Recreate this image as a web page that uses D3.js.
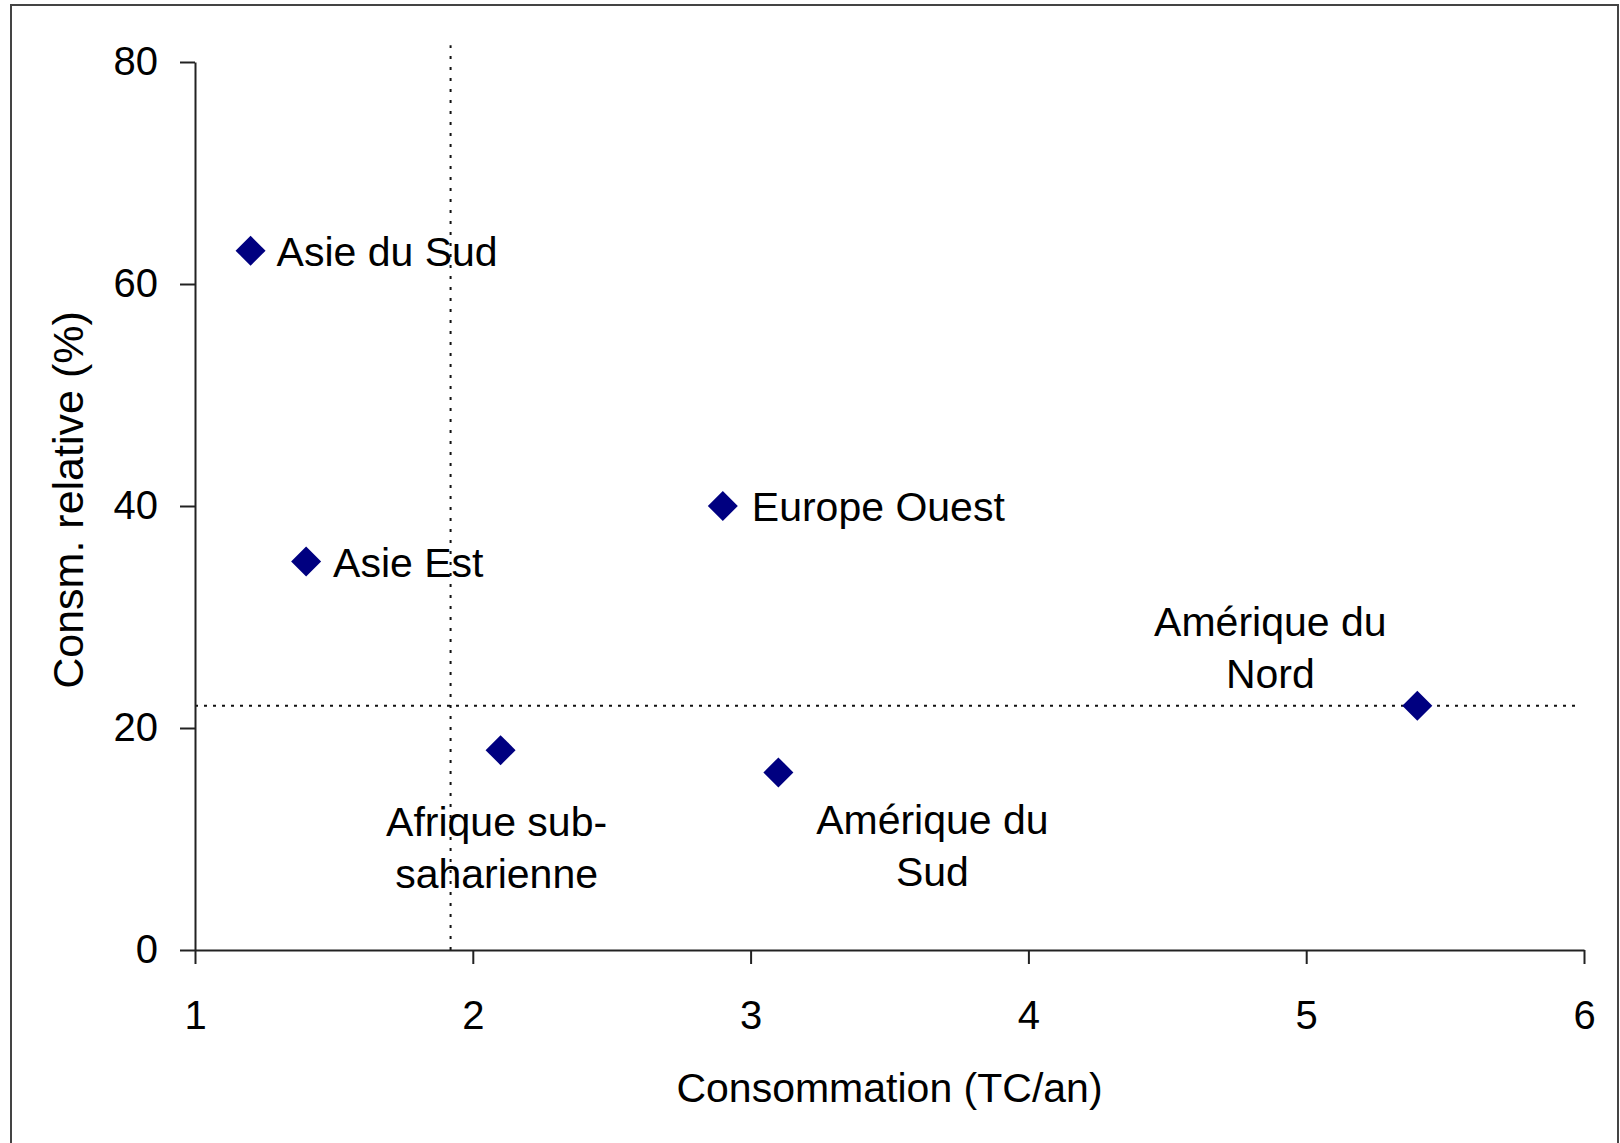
<!DOCTYPE html>
<html>
<head>
<meta charset="utf-8">
<script src="https://cdn.jsdelivr.net/npm/d3@7"></script>
<style>
  html, body { margin: 0; padding: 0; background: #fff; }
  svg { display: block; font-family: 'Liberation Sans', Arial, sans-serif; }
  .axis path, .axis line { stroke: #222; stroke-width: 2; }
  .axis text { font-size: 40px; fill: #000; }
</style>
</head>
<body>
<svg id="chart"></svg>
<script>
// data
const regions = ['Asie du Sud', 'Asie Est', 'Europe Ouest', 'Afrique sub-saharienne', 'Amérique du Sud', 'Amérique du Nord'];
const consommation = [1.2, 1.4, 2.9, 2.1, 3.1, 5.4];
const consmRelative = [63, 35, 40, 18, 16, 22];
const labelLines = [['Asie du Sud'], ['Asie Est'], ['Europe Ouest'], ['Afrique sub-', 'saharienne'], ['Amérique du', 'Sud'], ['Amérique du', 'Nord']];
const xTicks = [1, 2, 3, 4, 5, 6];
const yTicks = [0, 20, 40, 60, 80];
const refX = 1.92;
const refY = 22;
const refXTop = 81.5;
const refYEnd = 5.98;

const width = 1620;
const height = 1143;

const svg = d3.select('#chart')
    .attr('width', width)
    .attr('height', height);

// outer frame, runs past the bottom like in the reference
svg.append('rect')
    .attr('x', 11)
    .attr('y', 5)
    .attr('width', 1607)
    .attr('height', 1160)
    .attr('fill', '#fff')
    .attr('stroke', '#444')
    .attr('stroke-width', 2);

const x = d3.scaleLinear().domain([1, 6]).range([195, 1584]);
const y = d3.scaleLinear().domain([0, 80]).range([950, 62]);

// label placement per point: [dx, dy of first baseline, anchor]
const labelPlace = [
    [26, 15, 'start'],
    [27, 15, 'start'],
    [29, 15, 'start'],
    [-4, 86, 'middle'],
    [154, 62, 'middle'],
    [-147, -70, 'middle']
];
const lineHeight = 52;

// reference lines
svg.append('line')
    .attr('x1', x(refX)).attr('x2', x(refX))
    .attr('y1', y(0)).attr('y2', y(refXTop))
    .attr('stroke', '#111')
    .attr('stroke-width', 2)
    .attr('stroke-dasharray', '3,8');

svg.append('line')
    .attr('x1', x(1)).attr('x2', x(refYEnd))
    .attr('y1', y(refY)).attr('y2', y(refY))
    .attr('stroke', '#111')
    .attr('stroke-width', 2)
    .attr('stroke-dasharray', '3,6');

// axes
svg.append('g')
    .attr('class', 'axis')
    .attr('transform', `translate(0,${y(0)})`)
    .call(d3.axisBottom(x).tickValues(xTicks).tickFormat(d3.format('d')).tickSize(14).tickSizeOuter(0).tickPadding(37));

svg.append('g')
    .attr('class', 'axis')
    .attr('transform', `translate(${x(1)},0)`)
    .call(d3.axisLeft(y).tickValues(yTicks).tickFormat(d3.format('d')).tickSize(15).tickSizeOuter(0).tickPadding(22));

svg.selectAll('.axis text').attr('font-family', null);

// points
const points = regions.map((r, i) => ({ name: r, cx: consommation[i], cy: consmRelative[i], lines: labelLines[i], place: labelPlace[i] }));

const diamond = d3.symbol().type(d3.symbolSquare).size(450);

svg.append('g')
    .selectAll('path')
    .data(points)
    .join('path')
        .attr('d', diamond)
        .attr('transform', d => `translate(${x(d.cx)},${y(d.cy)}) rotate(45)`)
        .attr('fill', '#000080');

const labels = svg.append('g')
    .selectAll('text')
    .data(points)
    .join('text')
        .attr('font-size', 41)
        .attr('fill', '#000')
        .attr('text-anchor', d => d.place[2])
        .attr('x', d => x(d.cx) + d.place[0])
        .attr('y', d => y(d.cy) + d.place[1]);

labels.selectAll('tspan')
    .data(d => d.lines.map(l => ({ text: l, x: x(d.cx) + d.place[0] })))
    .join('tspan')
        .attr('x', t => t.x)
        .attr('dy', (t, i) => i === 0 ? 0 : lineHeight)
        .text(t => t.text);

// axis titles
svg.append('text')
    .attr('x', (x(1) + x(6)) / 2)
    .attr('y', 1102)
    .attr('text-anchor', 'middle')
    .attr('font-size', 41)
    .text('Consommation (TC/an)');

svg.append('text')
    .attr('transform', 'translate(83,500) rotate(-90)')
    .attr('text-anchor', 'middle')
    .attr('font-size', 43)
    .text('Consm. relative (%)');
</script>
</body>
</html>
